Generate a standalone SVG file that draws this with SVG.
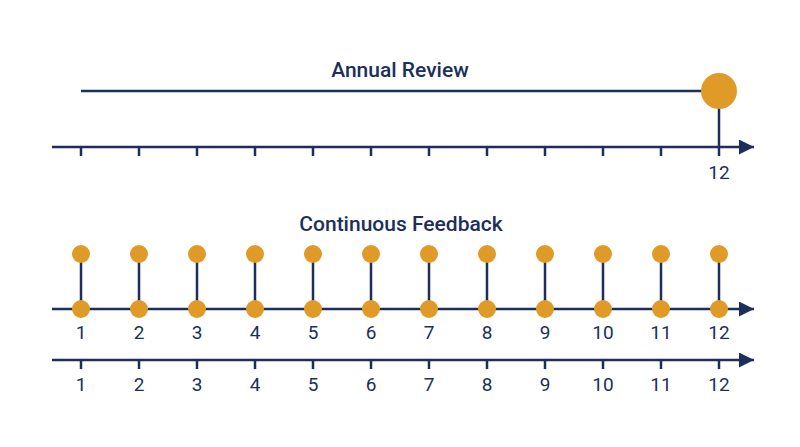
<svg xmlns="http://www.w3.org/2000/svg" width="800" height="447" viewBox="0 0 800 447">
<defs>
<style>
.ln{stroke:#1c2f5a;stroke-width:2.5;fill:none}
.tk{stroke:#1c2f5a;stroke-width:2.5}
.dot{fill:#e09a28}
.title{font-family:Roboto,"Liberation Sans",sans-serif;font-weight:500;font-size:21px;fill:#1c2f5a;text-anchor:middle}
.num{font-family:Roboto,"Liberation Sans",sans-serif;font-size:19px;fill:#1c2f5a;text-anchor:middle}
</style>
<marker id="arr" viewBox="0 0 10 10" refX="10" refY="5" markerWidth="6" markerHeight="6" markerUnits="strokeWidth" orient="auto">
<path d="M0,0 L10,5 L0,10 Z" fill="#1c2f5a"/>
</marker>
</defs>
<rect width="800" height="447" fill="#ffffff"/>
<g id="annual-title"><text class="title" x="400" y="77">Annual Review</text></g>
<g id="connectors">
<line class="ln" x1="81" y1="91" x2="710" y2="91"/>
<line class="ln" x1="719" y1="91" x2="719" y2="147"/>
<line class="ln" x1="52" y1="147" x2="754" y2="147" marker-end="url(#arr)"/>
<path class="tk" d="M81,147V156M139,147V156M197,147V156M255,147V156M313,147V156M371,147V156M429,147V156M487,147V156M545,147V156M603,147V156M661,147V156M719,147V156"/>
<line class="ln" x1="52" y1="309" x2="754" y2="309" marker-end="url(#arr)"/>
<path class="tk" d="M81,254V309M139,254V309M197,254V309M255,254V309M313,254V309M371,254V309M429,254V309M487,254V309M545,254V309M603,254V309M661,254V309M719,254V309"/>
<line class="ln" x1="52" y1="360" x2="754" y2="360" marker-end="url(#arr)"/>
<path class="tk" d="M81,360V369M139,360V369M197,360V369M255,360V369M313,360V369M371,360V369M429,360V369M487,360V369M545,360V369M603,360V369M661,360V369M719,360V369"/>
</g>
<g id="annual-node"><circle class="dot" cx="719" cy="91" r="18"/></g>
<g id="annual-label"><text class="num" x="719" y="179">12</text></g>
<g id="continuous-title"><text class="title" x="401" y="231">Continuous Feedback</text></g>
<g id="feedback-nodes">
<circle class="dot" cx="81" cy="254" r="9"/><circle class="dot" cx="81" cy="309" r="9"/>
<circle class="dot" cx="139" cy="254" r="9"/><circle class="dot" cx="139" cy="309" r="9"/>
<circle class="dot" cx="197" cy="254" r="9"/><circle class="dot" cx="197" cy="309" r="9"/>
<circle class="dot" cx="255" cy="254" r="9"/><circle class="dot" cx="255" cy="309" r="9"/>
<circle class="dot" cx="313" cy="254" r="9"/><circle class="dot" cx="313" cy="309" r="9"/>
<circle class="dot" cx="371" cy="254" r="9"/><circle class="dot" cx="371" cy="309" r="9"/>
<circle class="dot" cx="429" cy="254" r="9"/><circle class="dot" cx="429" cy="309" r="9"/>
<circle class="dot" cx="487" cy="254" r="9"/><circle class="dot" cx="487" cy="309" r="9"/>
<circle class="dot" cx="545" cy="254" r="9"/><circle class="dot" cx="545" cy="309" r="9"/>
<circle class="dot" cx="603" cy="254" r="9"/><circle class="dot" cx="603" cy="309" r="9"/>
<circle class="dot" cx="661" cy="254" r="9"/><circle class="dot" cx="661" cy="309" r="9"/>
<circle class="dot" cx="719" cy="254" r="9"/><circle class="dot" cx="719" cy="309" r="9"/>
</g>
<g id="feedback-labels">
<text class="num" x="81" y="339">1</text><text class="num" x="139" y="339">2</text><text class="num" x="197" y="339">3</text><text class="num" x="255" y="339">4</text><text class="num" x="313" y="339">5</text><text class="num" x="371" y="339">6</text><text class="num" x="429" y="339">7</text><text class="num" x="487" y="339">8</text><text class="num" x="545" y="339">9</text><text class="num" x="603" y="339">10</text><text class="num" x="661" y="339">11</text><text class="num" x="719" y="339">12</text>
</g>
<g id="month-labels">
<text class="num" x="81" y="391">1</text><text class="num" x="139" y="391">2</text><text class="num" x="197" y="391">3</text><text class="num" x="255" y="391">4</text><text class="num" x="313" y="391">5</text><text class="num" x="371" y="391">6</text><text class="num" x="429" y="391">7</text><text class="num" x="487" y="391">8</text><text class="num" x="545" y="391">9</text><text class="num" x="603" y="391">10</text><text class="num" x="661" y="391">11</text><text class="num" x="719" y="391">12</text>
</g>
</svg>
